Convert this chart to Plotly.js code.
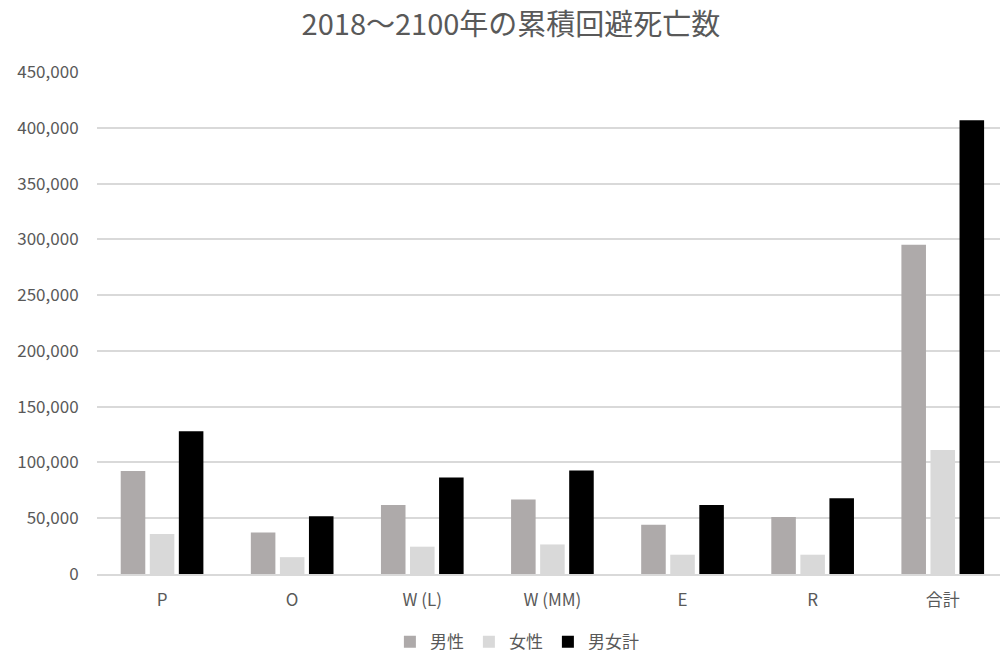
<!DOCTYPE html>
<html>
<head>
<meta charset="utf-8">
<script src="https://cdn.plot.ly/plotly-3.0.1.min.js"></script>
<style>
  html, body { margin: 0; padding: 0; background: #ffffff; }
  #chart { width: 1000px; height: 655px; }
</style>
</head>
<body>
<div id="chart"></div>
<script>
// Categories and cumulative averted deaths, 2018-2100
const categories = ['P', 'O', 'W (L)', 'W (MM)', 'E', 'R', '合計'];
const male   = [92400, 37300, 61900, 66700, 44200, 51100, 295100];
const female = [35800, 15100, 24500, 26500, 17300, 17300, 111100];
const total  = [127900, 51700, 86500, 92800, 61900, 67900, 406700];

const seriesNames = ['男性', '女性', '男女計'];
const yTickVals = [0, 50000, 100000, 150000, 200000, 250000, 300000, 350000, 400000, 450000];
const yTickText = ['0', '50,000', '100,000', '150,000', '200,000', '250,000', '300,000', '350,000', '400,000', '450,000'];

const FONT = '"Noto Sans CJK JP", "Noto Sans", sans-serif';
const TEXT = '#595959';

const traces = [
  { type: 'bar', name: seriesNames[0], x: categories, y: male,   marker: { color: '#AEAAAA' } },
  { type: 'bar', name: seriesNames[1], x: categories, y: female, marker: { color: '#D9D9D9' } },
  { type: 'bar', name: seriesNames[2], x: categories, y: total,  marker: { color: '#000000' } }
];

const layout = {
  width: 1000,
  height: 655,
  paper_bgcolor: '#ffffff',
  plot_bgcolor: '#ffffff',
  font: { family: FONT, color: TEXT, size: 17 },
  margin: { l: 97, r: 0, t: 72, b: 81, autoexpand: false },
  title: {
    text: '2018～2100年の累積回避死亡数',
    font: { family: FONT, size: 29, color: TEXT },
    x: 0.511, xanchor: 'center',
    y: 0.962, yanchor: 'middle'
  },
  barmode: 'group',
  bargap: 0.33,
  bargroupgap: 0.155,
  showlegend: true,
  legend: {
    orientation: 'h',
    x: 0.465, xanchor: 'center',
    y: -0.136, yanchor: 'middle',
    font: { family: FONT, size: 17, color: TEXT },
    itemwidth: 30,
    tracegroupgap: 0,
    traceorder: 'normal'
  },
  xaxis: {
    type: 'category',
    range: [-0.5, 6.44],
    showgrid: false,
    showline: true,
    linecolor: '#D9D9D9',
    linewidth: 2,
    ticks: 'outside',
    ticklen: 10,
    tickcolor: 'rgba(0,0,0,0)',
    tickfont: { family: FONT, size: 17, color: TEXT },
    fixedrange: true
  },
  yaxis: {
    range: [0, 450000],
    tickmode: 'array',
    tickvals: yTickVals,
    ticktext: yTickText,
    showgrid: true,
    gridcolor: '#D9D9D9',
    gridwidth: 2,
    zeroline: false,
    showline: false,
    ticks: 'outside',
    ticklen: 14,
    tickcolor: 'rgba(0,0,0,0)',
    tickfont: { family: FONT, size: 17, color: TEXT },
    fixedrange: true
  }
};

Plotly.newPlot('chart', traces, layout, { staticPlot: true, displayModeBar: false });
</script>
</body>
</html>
